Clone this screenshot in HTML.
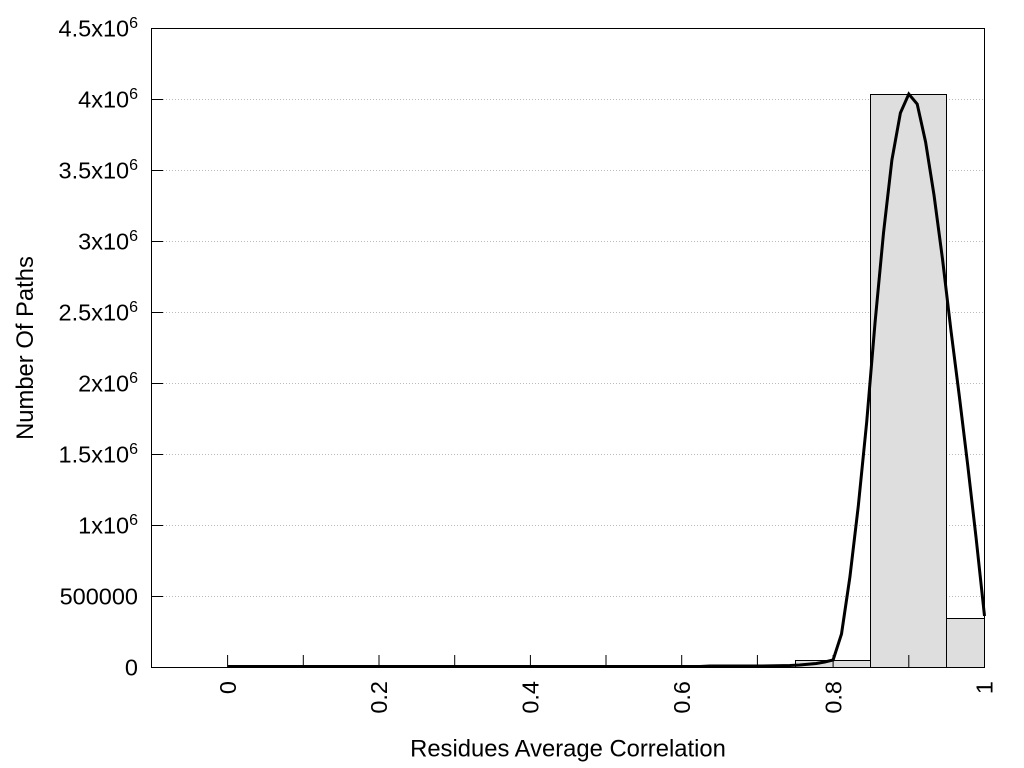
<!DOCTYPE html>
<html>
<head>
<meta charset="utf-8">
<style>
html,body{margin:0;padding:0;background:#fff;}
svg{display:block;}
text{font-family:"Liberation Sans",Arial,sans-serif;fill:#000;}
</style>
</head>
<body>
<svg width="1024" height="768" viewBox="0 0 1024 768" xmlns="http://www.w3.org/2000/svg">
<rect x="0" y="0" width="1024" height="768" fill="#fff"/>
<!-- grid -->
<g stroke="#bbbbbb" stroke-width="1" stroke-dasharray="1,2">
<line x1="163" y1="99.5" x2="984" y2="99.5"/>
<line x1="163" y1="170.5" x2="984" y2="170.5"/>
<line x1="163" y1="241.5" x2="984" y2="241.5"/>
<line x1="163" y1="312.5" x2="984" y2="312.5"/>
<line x1="163" y1="383.5" x2="984" y2="383.5"/>
<line x1="163" y1="454.5" x2="984" y2="454.5"/>
<line x1="163" y1="525.5" x2="984" y2="525.5"/>
<line x1="163" y1="596.5" x2="984" y2="596.5"/>
</g>
<!-- bars -->
<g fill="#dedede" stroke="#000" stroke-width="1">
<rect x="795.5" y="660.5" width="75" height="7"/>
<rect x="870.5" y="94.5" width="76" height="573"/>
<rect x="946.5" y="618.5" width="38" height="49"/>
</g>
<!-- y ticks -->
<g stroke="#000" stroke-width="1">
<line x1="151" y1="99.5" x2="163" y2="99.5"/>
<line x1="151" y1="170.5" x2="163" y2="170.5"/>
<line x1="151" y1="241.5" x2="163" y2="241.5"/>
<line x1="151" y1="312.5" x2="163" y2="312.5"/>
<line x1="151" y1="383.5" x2="163" y2="383.5"/>
<line x1="151" y1="454.5" x2="163" y2="454.5"/>
<line x1="151" y1="525.5" x2="163" y2="525.5"/>
<line x1="151" y1="596.5" x2="163" y2="596.5"/>
<!-- x ticks -->
<line x1="227.6" y1="667" x2="227.6" y2="655"/>
<line x1="303.3" y1="667" x2="303.3" y2="655"/>
<line x1="379" y1="667" x2="379" y2="655"/>
<line x1="454.7" y1="667" x2="454.7" y2="655"/>
<line x1="530.4" y1="667" x2="530.4" y2="655"/>
<line x1="606" y1="667" x2="606" y2="655"/>
<line x1="681.7" y1="667" x2="681.7" y2="655"/>
<line x1="757.4" y1="667" x2="757.4" y2="655"/>
<line x1="833.1" y1="667" x2="833.1" y2="655"/>
<line x1="908.8" y1="667" x2="908.8" y2="655"/>
</g>
<!-- frame -->
<rect x="151.5" y="28.5" width="833" height="639" fill="none" stroke="#000" stroke-width="1"/>
<!-- curve -->
<polyline fill="none" stroke="#000" stroke-width="3" stroke-linejoin="miter" points="
227.6,666.5 700,666.5 710,666 760,666 790,665.5 799.6,665 816.2,663.5 824.7,662 833.1,660
841.5,634 849.9,577 858.3,506 866.7,422 875.1,322 883.5,233 891.9,160 900.4,113 908.8,94
917.2,104 925.6,142 934,195 942.5,259 950.9,330 959.3,396 967.7,465 976.1,538 984.5,616"/>
<!-- y labels -->
<g font-size="23.5" text-anchor="end">
<text x="138" y="36.5">4.5x10<tspan dy="-8.5" font-size="16">6</tspan></text>
<text x="138" y="107.5">4x10<tspan dy="-8.5" font-size="16">6</tspan></text>
<text x="138" y="178.5">3.5x10<tspan dy="-8.5" font-size="16">6</tspan></text>
<text x="138" y="249.5">3x10<tspan dy="-8.5" font-size="16">6</tspan></text>
<text x="138" y="320.5">2.5x10<tspan dy="-8.5" font-size="16">6</tspan></text>
<text x="138" y="391.5">2x10<tspan dy="-8.5" font-size="16">6</tspan></text>
<text x="138" y="462.5">1.5x10<tspan dy="-8.5" font-size="16">6</tspan></text>
<text x="138" y="533.5">1x10<tspan dy="-8.5" font-size="16">6</tspan></text>
<text x="138" y="604.5">500000</text>
<text x="138" y="675.5">0</text>
</g>
<!-- x labels -->
<g font-size="23.5" text-anchor="end">
<text transform="translate(235.8,681) rotate(-90)">0</text>
<text transform="translate(387.2,681) rotate(-90)">0.2</text>
<text transform="translate(538.6,681) rotate(-90)">0.4</text>
<text transform="translate(689.9,681) rotate(-90)">0.6</text>
<text transform="translate(841.3,681) rotate(-90)">0.8</text>
<text transform="translate(992.7,681) rotate(-90)">1</text>
</g>
<!-- axis titles -->
<text x="568" y="756.5" font-size="23.8" text-anchor="middle">Residues Average Correlation</text>
<text transform="translate(33,348) rotate(-90)" font-size="23.8" text-anchor="middle">Number Of Paths</text>
</svg>
</body>
</html>
